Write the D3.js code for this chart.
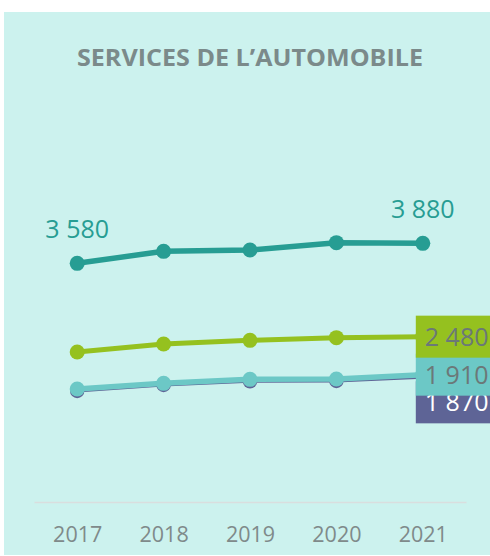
<!DOCTYPE html>
<html>
<head>
<meta charset="utf-8">
<script src="https://cdn.jsdelivr.net/npm/d3@7/dist/d3.min.js"></script>
<style>
  html, body { margin: 0; padding: 0; background: #ffffff; }
  svg { display: block; }
  text { font-family: "Open Sans", "Noto Sans", sans-serif; }
</style>
</head>
<body>
<svg id="chart" width="490" height="556"></svg>
<script>
// ---- data ----
const title = "SERVICES DE L\u2019AUTOMOBILE";
const years = ["2017", "2018", "2019", "2020", "2021"];
const seriesNames = ["s1", "s2", "s3", "s4"];
const valuesS1 = [3580, 3760, 3780, 3890, 3880];
const valuesS2 = [2250, 2370, 2425, 2465, 2480];
const valuesS3 = [1695, 1780, 1840, 1845, 1910];
const valuesS4 = [1665, 1755, 1810, 1815, 1870];
const yDomain = [0, 6000];

// ---- styles ----
const fmt = v => d3.format(",")(v).replace(/,/g, " ");
const styles = {
  s1: { color: "#279d93", width: 5.5, r: 7.5 },
  s2: { color: "#95c11f", width: 5, r: 7.5, text: "#6b7878", dy: 0 },
  s3: { color: "#6cc8c6", width: 5.5, r: 7.5, text: "#6b7878", dy: 0 },
  s4: { color: "#5e6496", width: 3, r: 7.2, text: "#ffffff", dy: 25 }
};
const allSeries = [
  { name: "s4", values: valuesS4 },
  { name: "s3", values: valuesS3 },
  { name: "s2", values: valuesS2 },
  { name: "s1", values: valuesS1 }
];

const svg = d3.select("#chart");
svg.append("rect").attr("x", 4).attr("y", 12).attr("width", 486).attr("height", 543)
  .attr("fill", "#ccf2ee");

// title
svg.append("text").attr("x", 250).attr("y", 65.5).attr("text-anchor", "middle")
  .attr("font-size", 23.5).attr("font-weight", 700).attr("fill", "#7b8a8a")
  .attr("textLength", 346).attr("lengthAdjust", "spacingAndGlyphs").text(title);

const x = d3.scalePoint().domain(years).range([34, 466]).padding(0.5);
const y = d3.scaleLinear().domain(yDomain).range([502, 102]);

// axis
const axis = svg.append("g").attr("transform", "translate(0,502)")
  .call(d3.axisBottom(x).tickSize(0).tickPadding(0));
axis.select(".domain").attr("stroke", "#d9dede").attr("stroke-width", 1.5);
axis.selectAll("text").attr("font-family", "Open Sans, sans-serif")
  .attr("font-size", 21.5).attr("fill", "#7f8a8a").attr("dy", 0).attr("y", 40);

const line = d3.line().x((d, i) => x(years[i])).y(d => y(d));

const gLines = svg.append("g");
allSeries.forEach(s => {
  const st = styles[s.name];
  const g = gLines.append("g");
  g.append("path").datum(s.values).attr("d", line).attr("fill", "none")
    .attr("stroke", st.color).attr("stroke-width", st.width).attr("stroke-linejoin", "round");
  g.selectAll("circle").data(s.values).join("circle")
    .attr("cx", (d, i) => x(years[i])).attr("cy", d => y(d)).attr("r", st.r).attr("fill", st.color);
});

// labels
const gLab = svg.append("g");
const last = years.length - 1;
[0, last].forEach(i => {
  gLab.append("text").attr("x", x(years[i])).attr("y", y(valuesS1[i]) - 25)
    .attr("text-anchor", "middle").attr("font-size", 25).attr("fill", styles.s1.color)
    .text(fmt(valuesS1[i]));
});
[["s4", valuesS4], ["s3", valuesS3], ["s2", valuesS2]].forEach(([n, vals]) => {
  const st = styles[n];
  const cx = x(years[last]);
  const cy = y(vals[last]) + st.dy;
  gLab.append("rect").attr("x", cx - 7).attr("y", cy - 21).attr("width", 90).attr("height", 42)
    .attr("fill", st.color);
  gLab.append("text").attr("x", cx + 2).attr("y", cy + 9).attr("font-size", 25)
    .attr("fill", st.text).text(fmt(vals[last]));
});
</script>
</body>
</html>
